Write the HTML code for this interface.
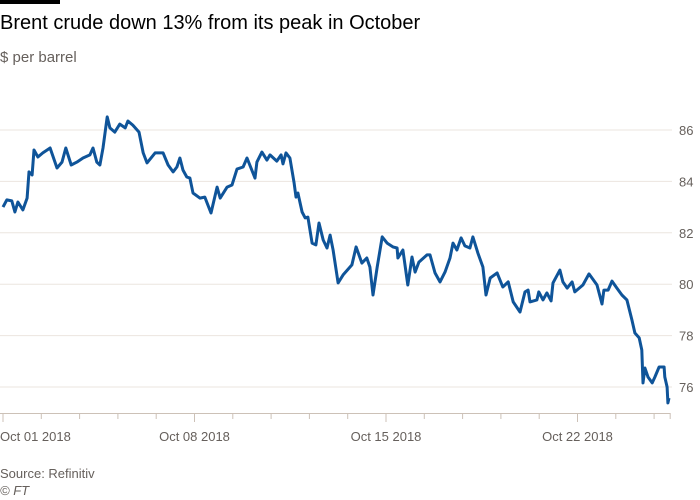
<!DOCTYPE html>
<html><head><meta charset="utf-8"><style>
body{margin:0;background:#fff;width:700px;height:500px;overflow:hidden;font-family:"Liberation Sans",sans-serif}
</style></head><body>
<svg width="700" height="500" style="position:absolute;left:0;top:0">
<rect x="0" y="0" width="60" height="4" fill="#000"/>
<text x="0" y="29" font-size="20" fill="#000">Brent crude down 13% from its peak in October</text>
<text x="0" y="62" font-size="15" fill="#66605c">$ per barrel</text>
<g id="grid"></g><g id="xaxis"></g>
<path id="line" fill="none" stroke="#0f5499" stroke-width="3" stroke-linejoin="round"/>
<text x="0" y="478" font-size="13" fill="#66605c">Source: Refinitiv</text>
<text x="0" y="495" font-size="13" font-style="italic" fill="#66605c">© FT</text>
</svg>
<script>
const yTicks=[76,78,80,82,84,86];
const xTickDays=[0,1,2,3,4,5,6,7,8,9,10,11,12,13,14,15,16,17];
const xLabelDays=[0,5,10,15];
const xLabels=["Oct 01 2018","Oct 08 2018","Oct 15 2018","Oct 22 2018"];
const days=[0,0.10,0.23,0.31,0.39,0.52,0.63,0.68,0.76,0.81,0.91,1.04,1.23,1.41,1.54,1.64,1.78,1.93,2.09,2.27,2.35,2.45,2.53,2.61,2.72,2.79,2.92,3.05,3.19,3.26,3.39,3.55,3.66,3.76,3.97,4.18,4.31,4.44,4.54,4.62,4.70,4.80,4.88,4.96,5.14,5.27,5.43,5.59,5.67,5.85,5.98,6.11,6.27,6.37,6.58,6.63,6.76,6.89,6.97,7.15,7.26,7.31,7.39,7.49,7.60,7.65,7.70,7.81,7.89,7.96,8.07,8.17,8.25,8.36,8.46,8.54,8.62,8.75,8.88,9.11,9.22,9.37,9.50,9.58,9.66,9.77,9.90,10.03,10.18,10.29,10.31,10.44,10.57,10.68,10.76,10.86,11.07,11.15,11.28,11.41,11.54,11.67,11.75,11.85,11.96,12.06,12.19,12.27,12.40,12.53,12.61,12.72,12.90,13.05,13.19,13.32,13.50,13.63,13.71,13.76,13.94,13.99,14.10,14.20,14.31,14.36,14.54,14.62,14.73,14.86,14.93,15.14,15.30,15.40,15.51,15.64,15.69,15.80,15.90,16.03,16.16,16.29,16.42,16.50,16.61,16.68,16.71,16.76,16.84,16.95,17.02,17.13,17.26,17.28,17.34,17.36,17.39];
const prices=[83.00,83.28,83.24,82.81,83.20,82.89,83.35,84.37,84.25,85.22,84.95,85.11,85.30,84.52,84.75,85.30,84.64,84.75,84.91,85.03,85.30,84.75,84.64,85.30,86.51,86.08,85.92,86.23,86.08,86.35,86.19,85.92,85.11,84.72,85.11,85.11,84.64,84.37,84.56,84.91,84.44,84.17,84.13,83.55,83.35,83.39,82.77,83.78,83.35,83.78,83.86,84.48,84.56,84.91,84.13,84.75,85.14,84.83,85.03,84.79,85.03,84.68,85.11,84.91,83.94,83.39,83.55,82.81,82.58,82.61,81.60,81.53,82.38,81.72,81.41,81.91,81.33,80.05,80.36,80.75,81.45,80.82,81.02,80.67,79.58,80.67,81.84,81.60,81.45,81.41,81.02,81.33,79.97,81.06,80.47,80.86,81.14,81.14,80.44,80.09,80.47,81.02,81.60,81.33,81.80,81.49,81.41,81.84,81.21,80.67,79.58,80.24,80.44,79.89,80.09,79.31,78.92,79.70,79.77,79.31,79.39,79.70,79.39,79.66,79.35,80.05,80.55,80.09,79.85,80.09,79.70,79.97,80.40,80.20,79.97,79.23,79.77,79.77,80.12,79.85,79.58,79.39,78.61,78.10,77.91,77.44,76.16,76.74,76.39,76.16,76.39,76.78,76.78,76.39,76.00,75.38,75.57];
const xS=d=>3+d*38.3, yS=p=>130+(86-p)*25.7;
const NS="http://www.w3.org/2000/svg";
const grid=document.getElementById('grid'), xa=document.getElementById('xaxis');
function mk(tag,at,parent){const e=document.createElementNS(NS,tag);for(const k in at)e.setAttribute(k,at[k]);parent.appendChild(e);return e;}
yTicks.forEach(v=>{
 const l=mk('line',{x1:0,x2:672,y1:yS(v),y2:yS(v),stroke:'#ebe5df','stroke-width':1},grid);
 
 
 const t=mk('text',{x:679,y:yS(v)+5,'font-size':13,fill:'#66605c'},grid);
 t.textContent=v;
 
 
});
const ax=mk('line',{x1:0,x2:670,y1:413.5,y2:413.5,stroke:'#ccc1b7','stroke-width':1},xa);


xTickDays.concat([17.42]).forEach(d=>{
 const major=xLabelDays.includes(d);
 const tk=mk('line',{x1:xS(d),x2:xS(d),y1:413,y2:major?422:419,stroke:'#ccc1b7','stroke-width':1},xa);
 
 
});
xLabelDays.forEach((d,i)=>{
 const t=mk('text',{x:i==0?0:xS(d),y:441,'font-size':13,fill:'#66605c','text-anchor':i==0?'start':'middle'},xa);
 t.textContent=xLabels[i];
 
 
});
document.getElementById('line').setAttribute('d',days.map((d,i)=>(i?'L':'M')+xS(d).toFixed(1)+','+yS(prices[i]).toFixed(1)).join(''));
</script>
</body></html>
